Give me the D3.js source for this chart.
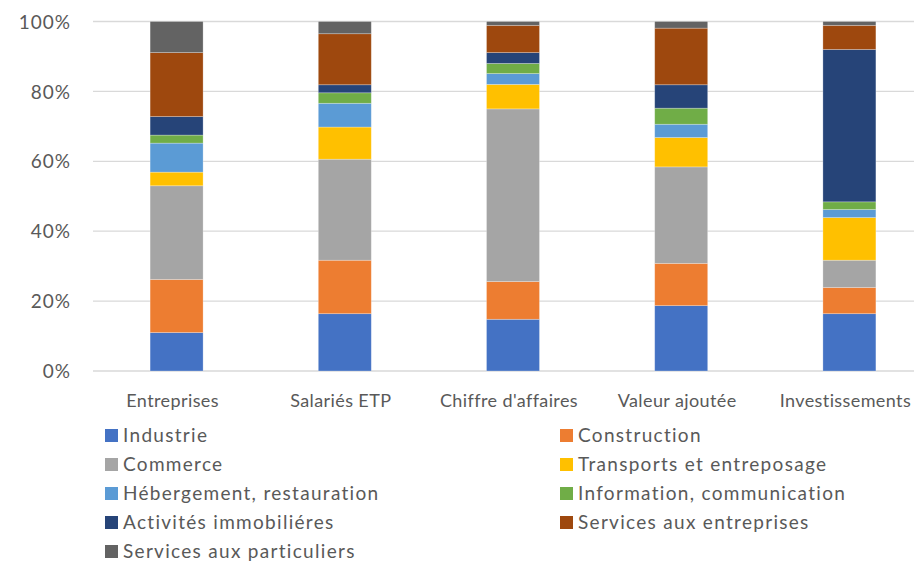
<!DOCTYPE html>
<html><head><meta charset="utf-8">
<script src="https://cdn.jsdelivr.net/npm/d3@7"></script>
<style>body{margin:0;background:#fff;} svg{display:block;}</style>
</head><body>
<svg id="chart" width="914" height="562"></svg>
<script>
const categories = ["Entreprises", "Salariés ETP", "Chiffre d'affaires", "Valeur ajoutée", "Investissements"];
const seriesNames = ["Industrie", "Construction", "Commerce", "Transports et entreposage", "Hébergement, restauration", "Information, communication", "Activités immobiliéres", "Services aux entreprises", "Services aux particuliers"];
const industrie      = [11.0, 16.4, 14.8, 18.7, 16.4];
const construction   = [15.2, 15.3, 10.8, 12.1, 7.5];
const commerce       = [26.8, 28.9, 49.4, 27.6, 7.8];
const transports     = [3.9, 9.2, 7.0, 8.4, 12.2];
const hebergement    = [8.3, 6.8, 3.1, 3.8, 2.3];
const information    = [2.3, 3.0, 2.9, 4.6, 2.2];
const immobilier     = [5.3, 2.3, 3.1, 6.7, 43.6];
const servEntreprises= [18.3, 14.6, 7.8, 16.2, 6.9];
const servParticuliers=[8.9, 3.5, 1.1, 1.9, 1.1];
const yTicks = [0, 20, 40, 60, 80, 100];
const colors = ["#4472C4", "#ED7D31", "#A5A5A5", "#FFC000", "#5B9BD5", "#70AD47", "#264478", "#9E480E", "#636363"];

const seriesValues = [industrie, construction, commerce, transports, hebergement, information, immobilier, servEntreprises, servParticuliers];
const rows = categories.map((c, i) => {
  const r = {cat: c};
  seriesNames.forEach((s, j) => r[s] = seriesValues[j][i]);
  return r;
});
const stack = d3.stack().keys(seriesNames)(rows);

const svg = d3.select("#chart");
const font = "Lato, 'Open Sans', sans-serif";
const textColor = "#595959";

const x = d3.scaleBand().domain(categories).range([92.5, 933.5]).paddingInner(0.685).paddingOuter(0.3425);
const y = d3.scaleLinear().domain([0, 100]).range([371, 21.5]);

// gridlines
svg.append("g").selectAll("line").data(yTicks).join("line")
  .attr("x1", 93).attr("x2", 914)
  .attr("y1", d => y(d)).attr("y2", d => y(d))
  .attr("stroke", "#d9d9d9").attr("stroke-width", 1.3);

// y axis labels
const yAxis = d3.axisLeft(y).tickValues(yTicks).tickFormat(d => d + "%").tickSize(0).tickPadding(0);
const yg = svg.append("g").attr("transform", "translate(71,0)").call(yAxis);
yg.select(".domain").remove();
yg.selectAll("text").attr("font-family", font).attr("font-size", 19).attr("letter-spacing", 1.0)
  .attr("fill", textColor).attr("dy", "0.35em");

// bars
svg.append("g").selectAll("g").data(stack).join("g")
  .attr("fill", (d, i) => colors[i])
  .selectAll("rect").data(d => d).join("rect")
  .attr("x", d => x(d.data.cat))
  .attr("width", x.bandwidth())
  .attr("y", d => y(d[1]))
  .attr("height", d => y(d[0]) - y(d[1]))
  .attr("stroke", "#ffffff").attr("stroke-opacity", 0.35).attr("stroke-width", 0.75);

// x axis labels
const xAxis = d3.axisBottom(x).tickSize(0).tickPadding(0);
const xg = svg.append("g").attr("transform", "translate(0,407)").call(xAxis);
xg.select(".domain").remove();
xg.selectAll("text").attr("font-family", font).attr("font-size", 18).attr("letter-spacing", 0.4)
  .attr("fill", textColor).attr("dy", 0).attr("dx", -4);

// legend
const leg = svg.append("g");
seriesNames.forEach((s, i) => {
  const col = i % 2, row = Math.floor(i / 2);
  const lx = col === 0 ? 105 : 560;
  const ly = 435 + row * 29;
  leg.append("rect").attr("x", lx).attr("y", ly - 6).attr("width", 13).attr("height", 13).attr("fill", colors[i]);
  leg.append("text").attr("x", lx + 18).attr("y", ly).attr("dy", "0.35em")
    .attr("font-family", font).attr("font-size", 19).attr("letter-spacing", 1.3)
    .attr("fill", textColor).text(s);
});
</script>
</body></html>
